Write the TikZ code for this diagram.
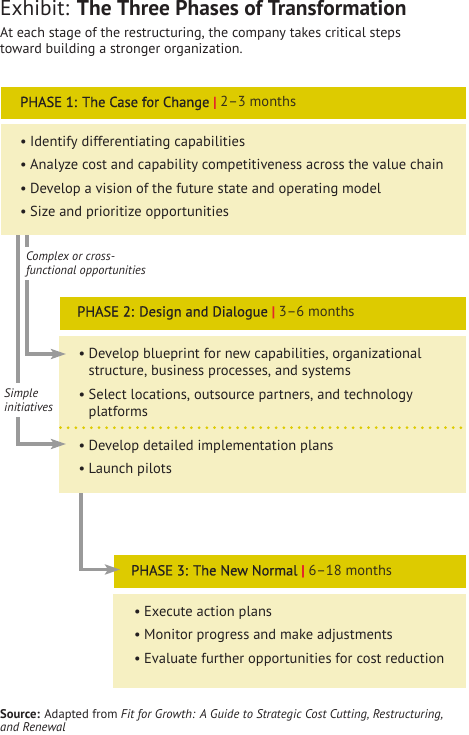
\documentclass[tikz,border=0pt]{standalone}
\usepackage{fontspec}
\setmainfont{PT Sans}
\newfontfamily\medfont{PT Sans}[FakeBold=0.4]
\usetikzlibrary{arrows.meta}
\definecolor{hdr}{RGB}{221,203,0}
\definecolor{bdy}{RGB}{246,240,194}
\definecolor{arr}{RGB}{154,154,154}
\definecolor{txt}{RGB}{35,31,32}
\definecolor{mon}{RGB}{55,48,25}
\definecolor{bar}{RGB}{228,40,40}
\newcommand{\bul}{\makebox[10pt][l]{\textbullet}}
\newcommand{\ind}{\hspace*{10pt}}
\begin{document}
\begin{tikzpicture}[x=1pt,y=-1pt,
 hbox/.style={fill=hdr, draw=none, anchor=north west, inner sep=0pt},
 bbox/.style={fill=bdy, draw=none, anchor=north west, inner sep=0pt},
 htext/.style={anchor=base west, inner sep=0pt, font=\fontsize{14.5}{17}\medfont, text=txt},
 item/.style={anchor=base west, inner sep=0pt, align=left, font=\fontsize{14.5}{17}\selectfont, text=txt},
 lbl/.style={anchor=base west, inner sep=0pt, align=left, font=\fontsize{12.3}{14}\selectfont\itshape, text=txt},
 flow/.style={draw=arr, line width=3.5pt, -{Stealth[length=15pt,width=10pt,inset=3pt]}},
 seg/.style={draw=arr, line width=3.5pt},
 dots/.style={draw=hdr, line width=3pt, line cap=round, dash pattern=on 0pt off 7.7pt},
]
\useasboundingbox (0,0) rectangle (468,735);

% title
\node[anchor=base west, inner sep=0pt, font=\fontsize{21.4}{24}\selectfont, text=txt] (title) at (0,15.7)
  {Exhibit: \textbf{The Three Phases of Transformation}};
\node[anchor=base west, inner sep=0pt, align=left, font=\fontsize{14.1}{16}\selectfont, text=txt] (sub) at (0,53.3)
  {At each stage of the restructuring, the company takes critical steps\\toward building a stronger organization.};

% phase 1
\node[hbox, minimum width=465pt, minimum height=32pt] (h1) at (1,87) {};
\node[htext] (h1t) at (20,107) {PHASE 1: The Case for Change {\color{bar}\textbf{|}} {\normalfont\color{mon}2–3 months}};
\node[bbox, minimum width=465pt, minimum height=111pt] (b1) at (1,124) {};
\node[item] (i11) at (20,146.5) {\bul Identify differentiating capabilities};
\node[item] (i12) at (20,169.8) {\bul Analyze cost and capability competitiveness across the value chain};
\node[item] (i13) at (20,193.1) {\bul Develop a vision of the future state and operating model};
\node[item] (i14) at (20,216.4) {\bul Size and prioritize opportunities};

% phase 2
\node[hbox, minimum width=406pt, minimum height=32.5pt] (h2) at (60,297) {};
\node[htext] (h2t) at (77,316.5) {PHASE 2: Design and Dialogue {\color{bar}\textbf{|}} {\normalfont\color{mon}3–6 months}};
\node[bbox, minimum width=407.3pt, minimum height=157pt] (b2) at (58.7,336) {};
\node[item] (i21) at (78.5,375.7) {\bul Develop blueprint for new capabilities, organizational\\\ind structure, business processes, and systems};
\node[item] (i22) at (78.5,416.4) {\bul Select locations, outsource partners, and technology\\\ind platforms};
\draw[dots] (60.5,427.7) -- (468,427.7);
\node[item] (i23) at (78.5,450) {\bul Develop detailed implementation plans};
\node[item] (i24) at (78.5,473.4) {\bul Launch pilots};

% phase 3
\node[hbox, minimum width=352.7pt, minimum height=32.7pt] (h3) at (113.3,555) {};
\node[htext] (h3t) at (131,575.4) {PHASE 3: The New Normal {\color{bar}\textbf{|}} {\normalfont\color{mon}6–18 months}};
\node[bbox, minimum width=353.7pt, minimum height=93.3pt] (b3) at (112.3,594) {};
\node[item] (i31) at (134,616.4) {\bul Execute action plans};
\node[item] (i32) at (134,639.7) {\bul Monitor progress and make adjustments};
\node[item] (i33) at (134,663) {\bul Evaluate further opportunities for cost reduction};

% labels
\node[lbl] (cx) at (26,274.5) {Complex or cross-\\functional opportunities};
\node[lbl] (si) at (4,411) {Simple\\initiatives};

% connectors
\coordinate (t1) at (66,444);
\coordinate (t2) at (66,354);
\coordinate (t3) at (120,569.5);
\draw[seg] ([xshift=17pt]b1.south west) -- (18,383);
\draw[flow] (18,417) |- (t1);
\draw[seg] ([xshift=26pt]b1.south west) -- (27,247);
\draw[flow] (27,280) |- (t2);
\draw[flow] ([xshift=22.3pt]b2.south west) |- (t3);

% source
\node[anchor=base west, inner sep=0pt, align=left, font=\fontsize{12.6}{13.3}\selectfont, text=txt] (src) at (0,731.8)
  {\textbf{Source:} Adapted from \textit{Fit for Growth: A Guide to Strategic Cost Cutting, Restructuring,}\\\textit{and Renewal}};
\end{tikzpicture}
\end{document}
